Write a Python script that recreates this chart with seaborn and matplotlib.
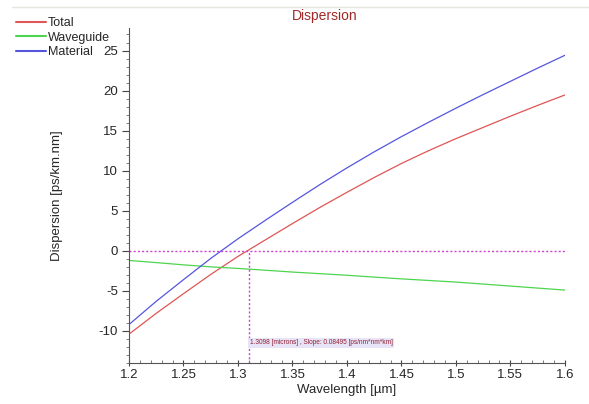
import numpy as np
import pandas as pd
import matplotlib
matplotlib.use("Agg")
import matplotlib.pyplot as plt
import seaborn as sns
from matplotlib.ticker import MultipleLocator, FuncFormatter
from matplotlib.lines import Line2D

wavelength = [1.20, 1.225, 1.25, 1.275, 1.30, 1.325, 1.35, 1.375, 1.40, 1.425, 1.45,
              1.475, 1.50, 1.525, 1.55, 1.575, 1.60]
material = [-9.2, -6.3, -3.6, -0.95, 1.5, 3.8, 6.05, 8.25, 10.35, 12.35, 14.25,
            16.05, 17.8, 19.5, 21.15, 22.8, 24.4]
waveguide = [-1.2, -1.47, -1.75, -2.0, -2.2, -2.42, -2.65, -2.85, -3.05, -3.28, -3.5,
             -3.7, -3.9, -4.15, -4.4, -4.65, -4.9]
total = [-10.4, -7.8, -5.35, -2.95, -0.7, 1.35, 3.4, 5.4, 7.3, 9.15, 10.9,
         12.5, 14.0, 15.4, 16.8, 18.15, 19.45]
series_names = ["Total", "Waveguide", "Material"]
colors = {"Total": "#e05555", "Waveguide": "#4fd44f", "Material": "#5555e0"}
zero_wl = 1.3098
annot = "1.3098 [microns] , Slope: 0.08495 [ps/nm*nm*km]"

n = len(wavelength)
df = pd.DataFrame({
    "Wavelength": wavelength * 3,
    "Dispersion": total + waveguide + material,
    "Series": ["Total"] * n + ["Waveguide"] * n + ["Material"] * n,
})

sns.set_style("white")
plt.rcParams["font.family"] = ["Liberation Sans", "DejaVu Sans"]
plt.rcParams["axes.unicode_minus"] = False

fig = plt.figure(figsize=(5.89, 4.04), dpi=100)
ax = fig.add_axes([0.219, 0.1015, 0.74, 0.829])

sns.lineplot(data=df, x="Wavelength", y="Dispersion", hue="Series",
             palette=colors, hue_order=series_names, legend=False, ax=ax, linewidth=0.9)

ax.set_xlim(1.2, 1.6)
ax.set_ylim(-14, 27.8)
ax.axhline(0, color="#cc44cc", linestyle=(0, (1.5, 1.5)), linewidth=1)
ax.plot([zero_wl, zero_wl], [-14, 0], color="#cc44cc", linestyle=(0, (1.5, 1.5)), linewidth=1)
ax.text(zero_wl + 0.001, -11.5, annot, fontsize=4.7, color="#902030", va="center", ha="left",
        bbox=dict(boxstyle="square,pad=0.25", fc="#e8e4f8", ec="none"))

ax.xaxis.set_major_locator(MultipleLocator(0.05))
ax.xaxis.set_minor_locator(MultipleLocator(0.01))
ax.yaxis.set_major_locator(MultipleLocator(5))
ax.yaxis.set_minor_locator(MultipleLocator(1))
ax.xaxis.set_major_formatter(FuncFormatter(lambda v, p: f"{v:g}"))
ax.tick_params(axis="y", which="major", length=5, width=0.8, color="#444444", labelsize=9.5,
               direction="out", pad=3, left=True)
ax.tick_params(axis="y", which="minor", length=2.5, width=0.6, color="#666666", direction="out", left=True)
ax.tick_params(axis="x", which="major", length=5, width=0.8, color="#444444", labelsize=9.5,
               direction="inout", pad=2, bottom=True)
ax.tick_params(axis="x", which="minor", length=2.5, width=0.6, color="#666666", direction="in", bottom=True)
for s in ["top", "right"]:
    ax.spines[s].set_visible(False)
for s in ["left", "bottom"]:
    ax.spines[s].set_color("#555555")
    ax.spines[s].set_linewidth(0.8)

ax.set_xlabel("Wavelength [\u00b5m]", fontsize=9.5, labelpad=2)
ax.set_ylabel("Dispersion [ps/km.nm]", fontsize=9.5, labelpad=0)
ax.yaxis.set_label_coords((63 - 129) / (0.74 * 589), 0.5)

fig.text(325 / 589, 1 - 16 / 404, "Dispersion", color="#a02828", fontsize=10, ha="center", va="center")
fig.add_artist(Line2D([12 / 589, 1], [1 - 7 / 404, 1 - 7 / 404], color="#e4e8dc", linewidth=1))

handles = [Line2D([0], [0], color=colors[s], linewidth=1.5) for s in series_names]
fig.legend(handles, series_names, loc="upper left", bbox_to_anchor=(0.028, 1 - 17 / 404),
           frameon=False, fontsize=9, handlelength=2.4, handletextpad=0.1,
           labelspacing=0.2, borderaxespad=0, borderpad=0)

fig.savefig("out.png", dpi=100)
